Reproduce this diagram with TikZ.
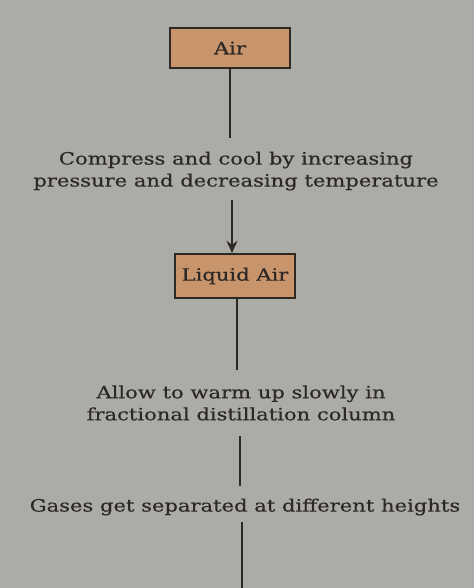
\documentclass[tikz,border=0pt]{standalone}
\usepackage{fontspec}
\setmainfont{DejaVu Serif}[FakeStretch=1.24,FakeBold=0.5]
\usetikzlibrary{arrows.meta}
\definecolor{paper}{RGB}{172,172,167}
\definecolor{boxfill}{RGB}{200,148,108}
\definecolor{ink}{RGB}{45,40,36}
\tikzset{
  every node/.style={text=ink, font=\fontsize{17}{22}\selectfont},
  stagebox/.style={draw=ink, line width=2.2pt, fill=boxfill, minimum width=120pt, minimum height=40pt, inner sep=2pt},
  stepnote/.style={align=center, inner sep=6pt},
  link/.style={draw=ink, line width=2pt},
}
\begin{document}
\begin{tikzpicture}[x=1pt,y=1pt]
\useasboundingbox[fill=paper] (0,0) rectangle (474,-588);
\node[stagebox] (air) at (230,-48) {Air};
\node[stepnote] (t1) at (236,-171) {Compress and cool by increasing\\pressure and decreasing temperature};
\node[stagebox, minimum height=44pt] (liq) at (235,-276) {Liquid Air};
\node[stepnote] (t2) at (241,-403) {Allow to warm up slowly in\\fractional distillation column};
\node[stepnote] (t3) at (245,-507) {Gases get separated at different heights};
\coordinate (bot) at (242,-588);
\draw[link] (air.south) -- (air.south |- 0,-138);
\draw[link, -{Stealth[length=12pt,width=11pt]}] (232,-200) -- (liq.north -| 232,0);
\draw[link] (liq.south -| 237,0) -- (237,-370);
\draw[link] (240,-436) -- (240,-486);
\draw[link] (t3.south -| 242,0) -- (bot);
\end{tikzpicture}
\end{document}
